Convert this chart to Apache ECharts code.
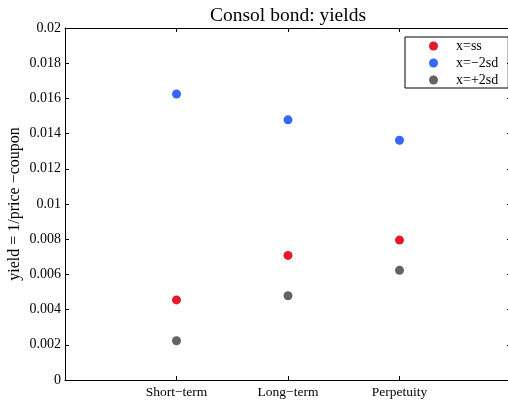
<!DOCTYPE html>
<html>
<head>
<meta charset="utf-8">
<script src="https://cdn.jsdelivr.net/npm/echarts@6/dist/echarts.min.js"></script>
<style>
  html, body {margin: 0; padding: 0; background: #fff;}
  #main {width: 508px; height: 404px;}
</style>
</head>
<body>
<div id="main"></div>
<script>
  // 数据
  const categories = ['Short\u2212term', 'Long\u2212term', 'Perpetuity'];
  const seriesNames = ['x=ss', 'x=\u22122sd', 'x=+2sd'];
  const ssYield = [0.00455, 0.00708, 0.00795];
  const minusYield = [0.01625, 0.01478, 0.01362];
  const plusYield = [0.00223, 0.00479, 0.00623];
  const colors = ['#e31a2d', '#3866f8', '#636363'];

  const font = 'Liberation Serif';

  function toPoints(vals) {
    return vals.map(function (v, i) { return [i + 1, v]; });
  }

  const myChart = echarts.init(document.getElementById('main'), null, {renderer: 'canvas'});

  const axisCommon = {
    axisLine: {show: true, onZero: false, lineStyle: {color: '#000', width: 1}},
    axisTick: {show: true, inside: true, length: 4, lineStyle: {color: '#000'}},
    splitLine: {show: false}
  };

  const option = {
    backgroundColor: '#fff',
    animation: false,
    title: {
      text: 'Consol bond: yields',
      left: 205, top: 1,
      textStyle: {fontFamily: font, fontWeight: 'normal', fontSize: 19.5, color: '#000'}
    },
    legend: {
      data: seriesNames,
      orient: 'vertical',
      left: 405, top: 37,
      icon: 'circle',
      itemWidth: 9, itemHeight: 9,
      itemGap: 3,
      padding: [2, 10, 1, 24],
      borderColor: '#000', borderWidth: 1,
      textStyle: {fontFamily: font, fontSize: 14, color: '#000', padding: [0, 0, 0, 13]}
    },
    grid: {left: 65, top: 28, right: -3, bottom: 24, outerBoundsMode: 'none', containLabel: false},
    xAxis: [
      Object.assign({}, axisCommon, {
        type: 'value', min: 0, max: 4, interval: 1, position: 'bottom',
        axisLabel: {
          fontFamily: font, fontSize: 13.5, color: '#000', margin: 5,
          formatter: function (v) { return categories[v - 1] || ''; }
        }
      }),
      Object.assign({}, axisCommon, {
        type: 'value', min: 0, max: 4, interval: 1, position: 'top',
        axisLabel: {show: false}
      })
    ],
    yAxis: [
      Object.assign({}, axisCommon, {
        type: 'value', min: 0, max: 0.02, interval: 0.002, position: 'left',
        name: 'yield = 1/price \u2212coupon',
        nameLocation: 'middle', nameGap: 42, nameMoveOverlap: false,
        nameTextStyle: {fontFamily: font, fontSize: 16, color: '#000'},
        axisLabel: {fontFamily: font, fontSize: 14, color: '#000', margin: 4}
      }),
      Object.assign({}, axisCommon, {
        type: 'value', min: 0, max: 0.02, interval: 0.002, position: 'right',
        axisLabel: {show: false}
      })
    ],
    series: [
      {name: seriesNames[0], type: 'scatter', symbolSize: 9, data: toPoints(ssYield), itemStyle: {color: colors[0], opacity: 1}},
      {name: seriesNames[1], type: 'scatter', symbolSize: 9, data: toPoints(minusYield), itemStyle: {color: colors[1], opacity: 1}},
      {name: seriesNames[2], type: 'scatter', symbolSize: 9, data: toPoints(plusYield), itemStyle: {color: colors[2], opacity: 1}}
    ]
  };

  myChart.setOption(option);
</script>
</body>
</html>
